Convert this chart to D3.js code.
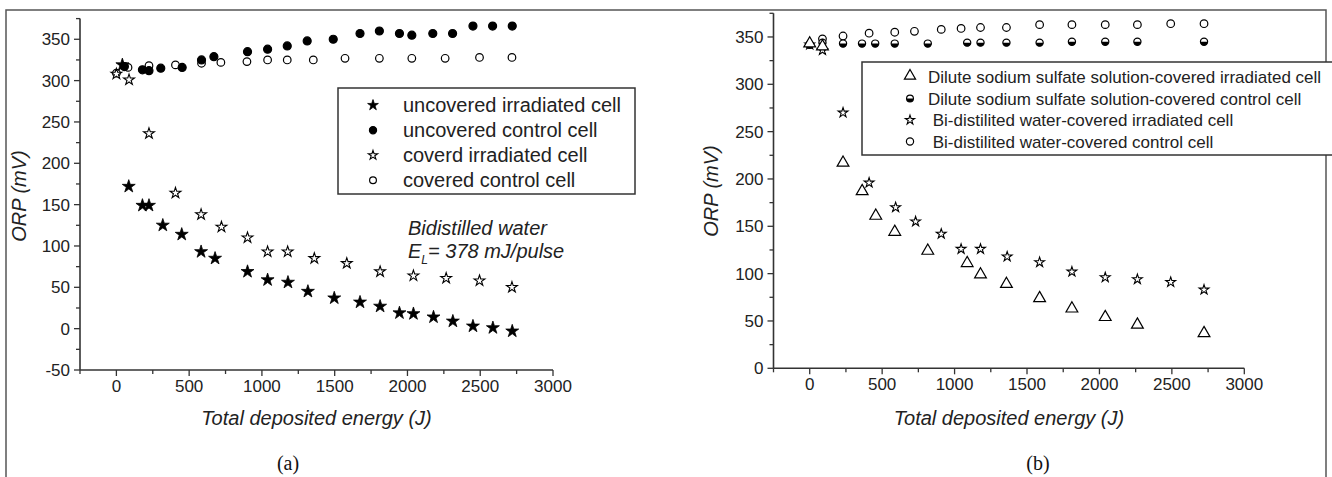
<!DOCTYPE html>
<html><head><meta charset="utf-8">
<script src="https://cdn.jsdelivr.net/npm/d3@7"></script>
<style>
html,body{margin:0;padding:0;background:#fff;}
svg{display:block;font-family:"Liberation Sans",Arial,sans-serif;}
</style></head>
<body>
<svg id="c" width="1332" height="477"></svg>
<script>
// ---------- data (a) ----------
const xTicksMajor = [0, 500, 1000, 1500, 2000, 2500, 3000];
const yTicksA = [-50, 0, 50, 100, 150, 200, 250, 300, 350];
const yTicksB = [0, 50, 100, 150, 200, 250, 300, 350];

const uncIrrX = [41, 85, 179, 224, 319, 449, 582, 678, 901, 1039, 1179, 1316, 1497, 1674, 1812, 1945, 2041, 2179, 2312, 2450, 2587, 2720];
const uncIrrY = [319, 172, 149, 149, 125, 114, 93, 85, 69, 59, 56, 45, 37, 32, 27, 19, 18, 14, 9, 3, 1, -3];
const uncCtlX = [55, 179, 224, 305, 452, 585, 670, 901, 1039, 1174, 1311, 1490, 1674, 1807, 1945, 2030, 2174, 2310, 2450, 2585, 2720];
const uncCtlY = [317, 313, 312, 315, 316, 325, 329, 335, 338, 342, 348, 350, 357, 360, 357, 355, 357, 357, 366, 366, 366];
const covIrrX = [0, 87, 224, 406, 582, 722, 901, 1039, 1177, 1360, 1583, 1812, 2041, 2266, 2495, 2718];
const covIrrY = [308, 301, 236, 164, 138, 123, 110, 93, 93, 85, 79, 69, 64, 61, 58, 50];
const covCtlX = [0, 80, 224, 406, 585, 718, 897, 1039, 1174, 1353, 1571, 1807, 2030, 2259, 2495, 2718];
const covCtlY = [309, 316, 318, 319, 321, 322, 323, 325, 325, 325, 327, 327, 327, 327, 328, 328];
const legendA = ["uncovered irradiated cell", "uncovered control cell", "coverd irradiated cell", "covered control cell"];

// ---------- data (b) ----------
const triX = [0, 88, 230, 362, 456, 587, 815, 1087, 1179, 1358, 1587, 1810, 2040, 2262, 2722];
const triY = [342, 339, 216, 186, 160, 143, 123, 110, 98, 88, 73, 62, 53, 45, 36];
const halfX = [0, 88, 230, 361, 452, 587, 815, 1087, 1179, 1358, 1587, 1810, 2040, 2262, 2722];
const halfY = [342, 344, 343, 343, 343, 343, 343, 344, 344, 344, 344, 345, 345, 345, 345];
const bstarX = [0, 88, 230, 410, 593, 731, 908, 1045, 1179, 1363, 1587, 1810, 2040, 2262, 2492, 2722];
const bstarY = [342, 336, 270, 196, 170, 155, 142, 126, 126, 118, 112, 102, 96, 94, 91, 83];
const bcircX = [0, 88, 230, 410, 587, 723, 908, 1045, 1179, 1358, 1587, 1810, 2040, 2262, 2492, 2722];
const bcircY = [342, 348, 351, 354, 355, 356, 358, 359, 360, 360, 363, 363, 363, 363, 364, 364];
const legendB = ["Dilute sodium sulfate solution-covered irradiated cell", "Dilute sodium sulfate solution-covered control cell", " Bi-distilited water-covered irradiated cell", " Bi-distilited water-covered control cell"];

const svg = d3.select("#c");
const AX = "#333", TXT = "#222";

// outer frame
svg.append("path").attr("d", "M6,480 L6,10 L1326,10 L1326,480")
  .attr("fill", "none").attr("stroke", "#555").attr("stroke-width", 1.5);

const zip = (xs, ys) => xs.map((x, i) => [x, ys[i]]);

function marker(g, type, x, y, scale) {
  const s = scale || 1;
  if (type === "fstar" || type === "ostar") {
    g.append("path").attr("transform", `translate(${x},${y})`)
      .attr("d", d3.symbol(d3.symbolStar, (type === "fstar" ? 40 : 30) * s)())
      .attr("fill", type === "fstar" ? "#000" : "#fff")
      .attr("stroke", "#000").attr("stroke-width", type === "fstar" ? 0.8 : 1.1);
  } else if (type === "fcirc" || type === "ocirc") {
    g.append("circle").attr("cx", x).attr("cy", y).attr("r", (type === "fcirc" ? 4 : 3.8) * Math.sqrt(s))
      .attr("fill", type === "fcirc" ? "#000" : "#fff").attr("stroke", "#000").attr("stroke-width", 1.2);
  } else if (type === "half") {
    const r = 3.6 * Math.sqrt(s);
    g.append("circle").attr("cx", x).attr("cy", y).attr("r", r)
      .attr("fill", "#fff").attr("stroke", "#000").attr("stroke-width", 1.2);
    g.append("path").attr("d", `M${x - r},${y} A${r},${r} 0 0 0 ${x + r},${y} Z`).attr("fill", "#000");
  } else if (type === "tri") {
    g.append("path").attr("transform", `translate(${x},${y - 1})`)
      .attr("d", d3.symbol(d3.symbolTriangle, 60 * s)())
      .attr("fill", "#fff").attr("stroke", "#000").attr("stroke-width", 1.2);
  }
}

function panel(opt) {
  const x = d3.scaleLinear().domain([-250, 3000]).range(opt.xr);
  const y = d3.scaleLinear().domain(opt.yd).range(opt.yr);
  const g = svg.append("g");
  const y0 = opt.yr[0], x0 = opt.xr[0];
  // x axis
  g.append("line").attr("x1", x0).attr("x2", opt.xr[1]).attr("y1", y0).attr("y2", y0)
    .attr("stroke", AX).attr("stroke-width", 1.6);
  d3.range(-250, 3001, 250).forEach(v => {
    const major = v % 500 === 0;
    g.append("line").attr("x1", x(v)).attr("x2", x(v)).attr("y1", y0).attr("y2", y0 + (major ? 6 : 4))
      .attr("stroke", AX).attr("stroke-width", 1.3);
  });
  xTicksMajor.forEach(v => {
    g.append("text").attr("x", x(v)).attr("y", y0 + 10).attr("dy", "0.71em")
      .attr("text-anchor", "middle").attr("font-size", 17).attr("fill", TXT).text(v);
  });
  // y axis
  g.append("line").attr("x1", x0).attr("x2", x0).attr("y1", opt.yr[0]).attr("y2", opt.yr[1])
    .attr("stroke", AX).attr("stroke-width", 1.6);
  d3.range(opt.yd[0], opt.yd[1] + 1, 25).forEach(v => {
    const major = v % 50 === 0;
    g.append("line").attr("x1", x0).attr("x2", x0 - (major ? 6 : 4)).attr("y1", y(v)).attr("y2", y(v))
      .attr("stroke", AX).attr("stroke-width", 1.3);
  });
  opt.yt.forEach(v => {
    g.append("text").attr("x", x0 - 10).attr("y", y(v)).attr("dy", "0.35em")
      .attr("text-anchor", "end").attr("font-size", 17).attr("fill", TXT).text(v);
  });
  // titles
  g.append("text").attr("x", (opt.xr[0] + opt.xr[1]) / 2 + opt.xtOff).attr("y", 425)
    .attr("text-anchor", "middle").attr("font-size", 20).attr("font-style", "italic").attr("fill", TXT)
    .text("Total deposited energy (J)");
  g.append("text").attr("transform", `translate(${opt.ytx},${opt.yty}) rotate(-90)`)
    .attr("text-anchor", "middle").attr("font-size", 20).attr("font-style", "italic").attr("fill", TXT)
    .text("ORP (mV)");
  g.append("text").attr("x", opt.lab[0]).attr("y", 470).attr("text-anchor", "middle")
    .attr("font-family", "Liberation Serif, Times New Roman, serif").attr("font-size", 20).attr("fill", "#111")
    .text(opt.lab[1]);
  // series
  opt.series.forEach(s => {
    zip(s.x, s.y).forEach(([a, b]) => marker(g, s.type, x(a), y(b), s.scale));
  });
  return { g, x, y };
}

// panel (a)
const A = panel({
  xr: [80, 553], yd: [-50, 375], yr: [370, 18.6], yt: yTicksA, xtOff: 0,
  ytx: 26, yty: 196, lab: [288, "(a)"],
  series: [
    { x: covCtlX, y: covCtlY, type: "ocirc" },
    { x: covIrrX, y: covIrrY, type: "ostar", scale: 1.2 },
    { x: uncCtlX, y: uncCtlY, type: "fcirc" },
    { x: uncIrrX, y: uncIrrY, type: "fstar", scale: 1.3 }
  ]
});
// legend (a)
A.g.append("rect").attr("x", 338).attr("y", 88).attr("width", 297).attr("height", 106)
  .attr("fill", "#fff").attr("stroke", AX).attr("stroke-width", 1.5);
const typesA = ["fstar", "fcirc", "ostar", "ocirc"];
legendA.forEach((t, i) => {
  const by = 111.7 + i * 25;
  marker(A.g, typesA[i], 373, by - 6.5, typesA[i] === "fcirc" || typesA[i] === "ocirc" ? 0.8 : 0.9);
  A.g.append("text").attr("x", 403).attr("y", by).attr("font-size", 20).attr("fill", TXT).text(t);
});
// annotation
A.g.append("text").attr("x", 408).attr("y", 235).attr("font-size", 20).attr("font-style", "italic")
  .attr("fill", TXT).text("Bidistilled water");
const el = A.g.append("text").attr("x", 408).attr("y", 258).attr("font-size", 20).attr("font-style", "italic").attr("fill", TXT);
el.append("tspan").text("E");
el.append("tspan").attr("dy", 6).attr("font-size", 12).text("L");
el.append("tspan").attr("dy", -6).text("= 378 mJ/pulse");

// panel (b)
const B = panel({
  xr: [773.5, 1244.3], yd: [0, 375], yr: [368.3, 13.3], yt: yTicksB, xtOff: 0,
  ytx: 718, yty: 191, lab: [1038, "(b)"],
  series: [
    { x: bcircX, y: bcircY, type: "ocirc" },
    { x: halfX, y: halfY, type: "half" },
    { x: bstarX, y: bstarY, type: "ostar" },
    { x: triX, y: triY, type: "tri" }
  ]
});
// legend (b)
B.g.append("rect").attr("x", 862).attr("y", 62).attr("width", 475).attr("height", 93)
  .attr("fill", "#fff").attr("stroke", AX).attr("stroke-width", 1.5);
const typesB = ["tri", "half", "ostar", "ocirc"];
legendB.forEach((t, i) => {
  const by = 83 + i * 21.5;
  marker(B.g, typesB[i], 910, by - 6, 0.9);
  B.g.append("text").attr("x", 928).attr("y", by).attr("font-size", 17).attr("fill", TXT)
    .attr("xml:space", "preserve").style("white-space", "pre").text(t);
});
</script>
</body></html>
